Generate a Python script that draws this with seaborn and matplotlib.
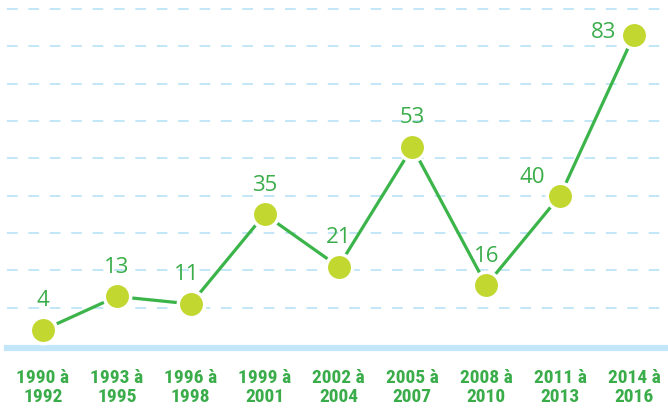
import matplotlib.pyplot as plt
import seaborn as sns
import pandas as pd
from matplotlib import font_manager

periods = ['1990 à\n1992', '1993 à\n1995', '1996 à\n1998', '1999 à\n2001', '2002 à\n2004',
           '2005 à\n2007', '2008 à\n2010', '2011 à\n2013', '2014 à\n2016']
counts = [4, 13, 11, 35, 21, 53, 16, 40, 83]
gridlines = [10, 20, 30, 40, 50, 60, 70, 80, 90]

GREEN = '#3bb44a'
LABEL_GREEN = '#3aad4a'
LIME = '#c2d72f'
BLUE = '#c3e7f8'

names = {f.name for f in font_manager.fontManager.ttflist}
narrow = 'Roboto'
for cand in ['Liberation Sans Narrow', 'Roboto Condensed', 'Open Sans Condensed',
             'Noto Sans Condensed', 'DejaVu Sans Condensed']:
    if cand in names:
        narrow = cand
        break

df = pd.DataFrame({'pos': range(len(counts)), 'count': counts})

sns.set_style('white')
fig = plt.figure(figsize=(6.68, 4.09), dpi=100)
ax = fig.add_axes([7 / 668, 1 - 348 / 409, 661 / 668, 348 / 409])

for g in gridlines:
    ax.axhline(g, color=BLUE, lw=1.4, ls=(0, (5.5, 5.5)), zorder=0)

sns.lineplot(data=df, x='pos', y='count', ax=ax, color=GREEN, lw=2.3, zorder=2)
ax.plot(df['pos'], df['count'], ls='none', marker='o', ms=19, mfc=LIME,
        mec='white', mew=2.5, zorder=3)

for i, v in enumerate(counts):
    dx, dy = 0, 21
    if i == 2:
        dx = -3
    if i == 7:
        dx, dy = -20, 13
    if i == 8:
        dx, dy = -22, 2
    ax.annotate(str(v), (i, v), xytext=(dx, dy), textcoords='offset points',
                ha='center', va='center', color=LABEL_GREEN, fontsize=16,
                family='Open Sans')

ax.set_xlim(-36 / 73.875, 8 + 34 / 73.875)
ax.set_ylim(-0.8, 345 / 3.734)
ax.set_xticks(range(len(periods)))
ax.set_xticklabels(periods, color=LABEL_GREEN, fontsize=14, fontweight='bold',
                   family=narrow, linespacing=1.1)
ax.tick_params(axis='x', length=0, pad=15)
ax.set_yticks([])
ax.set_xlabel('')
ax.set_ylabel('')

for s in ['top', 'right', 'left']:
    ax.spines[s].set_visible(False)
ax.spines['bottom'].set_color(BLUE)
ax.spines['bottom'].set_linewidth(4.5)

plt.savefig('out.png', dpi=100)
